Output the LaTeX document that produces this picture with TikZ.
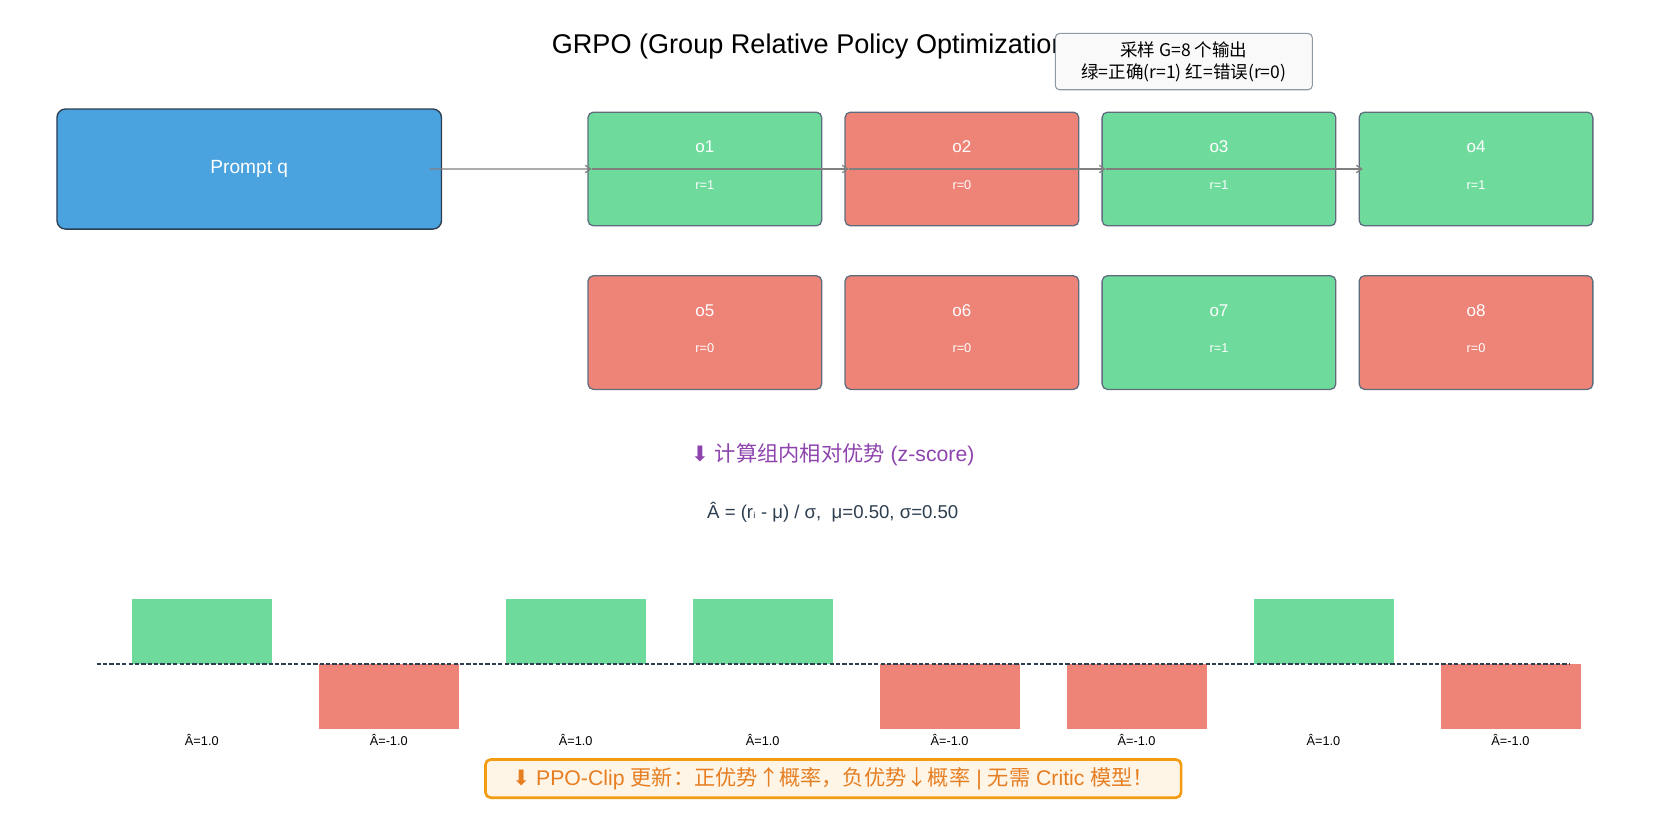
\documentclass[tikz,border=0pt]{standalone}
\usepackage{fontspec}
\setmainfont{Liberation Sans}
\newfontfamily\cjk{Noto Sans CJK SC}
\newfontfamily\dv{DejaVu Sans}
\usetikzlibrary{arrows.meta}
\definecolor{cg}{HTML}{6EDB9C}
\definecolor{cr}{HTML}{EE8377}
\definecolor{cb}{HTML}{4AA3DF}
\definecolor{cdark}{HTML}{2C3E50}
\definecolor{cbord}{HTML}{5D6D7E}
\definecolor{cpur}{HTML}{8E44AD}
\definecolor{corg}{HTML}{E67E22}
\definecolor{corgb}{HTML}{F39C12}
\definecolor{cfill}{HTML}{FEF5E7}
\tikzset{
 outbox/.style={draw=cbord, line width=1.2pt, rounded corners=5pt, minimum width=220pt, minimum height=107pt, anchor=north west},
 lab/.style={text=white, font=\fontsize{16}{18}\selectfont},
 rlab/.style={text=white, font=\fontsize{12}{14}\selectfont},
 conn/.style={draw=gray, line width=1.2pt, -{Straight Barb[length=5pt,width=7pt]}},
 bar/.style={draw=none, minimum width=132pt, minimum height=61pt, inner sep=0},
 alab/.style={font=\fontsize{12}{14}\selectfont},
}
\begin{document}
\begin{tikzpicture}[x=1pt,y=-1pt]
\useasboundingbox (0,0) rectangle (1560,790);
\node[anchor=west] (title) at (516,44) {\fontsize{25.5}{28}\selectfont GRPO (Group Relative Policy Optimization)};
\node[draw=cbord!70, fill=gray!5, rounded corners=4pt, line width=1pt, minimum width=242pt, minimum height=53pt, anchor=north west, align=center, inner sep=2pt, font=\cjk\fontsize{16.5}{21}\selectfont] (note) at (993,31) {采样 G=8 个输出\\ 绿=正确(r=1) 红=错误(r=0)};
\node[draw=cdark, fill=cb, line width=1.3pt, rounded corners=8pt, minimum width=362pt, minimum height=113pt, anchor=north west, text=white, font=\fontsize{18}{20}\selectfont] (p) at (53,102) {Prompt q};
\foreach \i/\x/\y/\c/\r in {1/553/105/cg/1,2/795/105/cr/0,3/1037/105/cg/1,4/1279/105/cg/1,5/553/259/cr/0,6/795/259/cr/0,7/1037/259/cg/1,8/1279/259/cr/0}{
 \node[outbox, fill=\c] (o\i) at (\x,\y) {};
 \node[lab] (ol\i) at ([yshift=21pt]o\i.center) {o\i};
 \node[rlab] (or\i) at ([yshift=-15pt]o\i.center) {r=\r};
}
\draw[conn] ([xshift=-12pt]p.east) -- ([xshift=4pt]o1.west);
\draw[conn] ([xshift=4pt]o1.west) -- ([xshift=4pt]o2.west);
\draw[conn] ([xshift=4pt]o2.west) -- ([xshift=4pt]o3.west);
\draw[conn] ([xshift=4pt]o3.west) -- ([xshift=4pt]o4.west);
\node[text=cpur, font=\fontsize{20}{22}\selectfont] (step) at (784,428) {{\dv ⬇} {\cjk 计算组内相对优势} (z-score)};
\node[text=cdark, font=\fontsize{17.5}{20}\selectfont] (formula) at (784,482) {Â = (r{\dv\fontsize{14}{16}\selectfont ᵢ} - μ) / σ,\ \ μ=0.50, σ=0.50};
\coordinate (bl) at (91,625);
\coordinate (br) at (1478,625);
\foreach \i/\x/\s in {1/124/1,2/300/-1,3/476/1,4/652/1,5/828/-1,6/1004/-1,7/1180/1,8/1356/-1}{
 \ifnum\s=1
  \node[bar, fill=cg, anchor=south west] (b\i) at (\x,625) {};
  \node[alab] (a\i) at (\x+66,697) {Â=1.0};
 \else
  \node[bar, fill=cr, anchor=north west] (b\i) at (\x,625) {};
  \node[alab] (a\i) at (\x+66,697) {Â=-1.0};
 \fi
}
\draw[cdark, line width=1.2pt, dash pattern=on 4pt off 2pt] (bl) -- (br);
\node[draw=corgb, fill=cfill, line width=2.5pt, rounded corners=5pt, minimum width=655pt, minimum height=36pt, text=corg, font=\fontsize{20}{22}\selectfont] (ppo) at (784.5,733) {{\dv ⬇} PPO-Clip {\cjk 更新：正优势↑概率，负优势↓概率} | {\cjk 无需} Critic {\cjk 模型！}};
\end{tikzpicture}
\end{document}
